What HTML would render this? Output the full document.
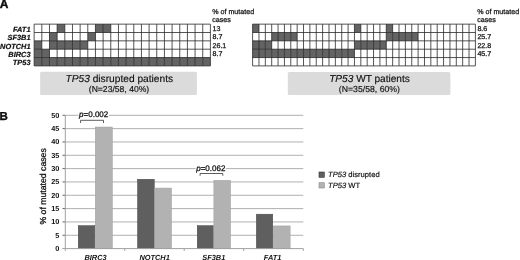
<!DOCTYPE html>
<html><head><meta charset="utf-8"><style>
html,body{margin:0;padding:0;background:#fff;}
body{width:520px;height:260px;overflow:hidden;position:relative;}
svg{position:absolute;left:0;top:0;filter:blur(0.3px);}
text{font-family:"Liberation Sans",Arial,sans-serif;fill:#111;text-rendering:geometricPrecision;}
.grid line{stroke:#2a2a2a;stroke-width:0.8;}
.gl{font-weight:bold;font-style:italic;font-size:7.4px;stroke:#111;stroke-width:0.2px;}
.pct{font-size:7.1px;stroke:#111;stroke-width:0.25px;}
.it{font-style:italic;}
</style></head><body>
<svg width="520" height="260" viewBox="0 0 520 260">
<text x="-0.2" y="8.3" style="font-weight:bold;font-size:12px;stroke:#000;stroke-width:0.35px">A</text>
<text x="-0.5" y="119.7" style="font-weight:bold;font-size:11.5px;stroke:#000;stroke-width:0.35px">B</text>
<g class="grid">
<rect x="57.14" y="24.15" width="7.66" height="8.35" fill="#636363"/>
<rect x="95.45" y="24.15" width="7.66" height="8.35" fill="#636363"/>
<rect x="103.12" y="24.15" width="7.66" height="8.35" fill="#636363"/>
<rect x="49.48" y="32.50" width="7.66" height="8.35" fill="#636363"/>
<rect x="87.79" y="32.50" width="7.66" height="8.35" fill="#636363"/>
<rect x="34.15" y="40.85" width="7.66" height="8.35" fill="#636363"/>
<rect x="49.48" y="40.85" width="7.66" height="8.35" fill="#636363"/>
<rect x="57.14" y="40.85" width="7.66" height="8.35" fill="#636363"/>
<rect x="64.80" y="40.85" width="7.66" height="8.35" fill="#636363"/>
<rect x="72.47" y="40.85" width="7.66" height="8.35" fill="#636363"/>
<rect x="80.13" y="40.85" width="7.66" height="8.35" fill="#636363"/>
<rect x="34.15" y="49.20" width="7.66" height="8.35" fill="#636363"/>
<rect x="41.81" y="49.20" width="7.66" height="8.35" fill="#636363"/>
<rect x="34.15" y="57.55" width="7.66" height="8.35" fill="#636363"/>
<rect x="41.81" y="57.55" width="7.66" height="8.35" fill="#636363"/>
<rect x="49.48" y="57.55" width="7.66" height="8.35" fill="#636363"/>
<rect x="57.14" y="57.55" width="7.66" height="8.35" fill="#636363"/>
<rect x="64.80" y="57.55" width="7.66" height="8.35" fill="#636363"/>
<rect x="72.47" y="57.55" width="7.66" height="8.35" fill="#636363"/>
<rect x="80.13" y="57.55" width="7.66" height="8.35" fill="#636363"/>
<rect x="87.79" y="57.55" width="7.66" height="8.35" fill="#636363"/>
<rect x="95.45" y="57.55" width="7.66" height="8.35" fill="#636363"/>
<rect x="103.12" y="57.55" width="7.66" height="8.35" fill="#636363"/>
<rect x="110.78" y="57.55" width="7.66" height="8.35" fill="#636363"/>
<rect x="118.44" y="57.55" width="7.66" height="8.35" fill="#636363"/>
<rect x="126.11" y="57.55" width="7.66" height="8.35" fill="#636363"/>
<rect x="133.77" y="57.55" width="7.66" height="8.35" fill="#636363"/>
<rect x="141.43" y="57.55" width="7.66" height="8.35" fill="#636363"/>
<rect x="149.10" y="57.55" width="7.66" height="8.35" fill="#636363"/>
<rect x="156.76" y="57.55" width="7.66" height="8.35" fill="#636363"/>
<rect x="164.42" y="57.55" width="7.66" height="8.35" fill="#636363"/>
<rect x="172.08" y="57.55" width="7.66" height="8.35" fill="#636363"/>
<rect x="179.75" y="57.55" width="7.66" height="8.35" fill="#636363"/>
<rect x="187.41" y="57.55" width="7.66" height="8.35" fill="#636363"/>
<rect x="195.07" y="57.55" width="7.66" height="8.35" fill="#636363"/>
<rect x="202.74" y="57.55" width="7.66" height="8.35" fill="#636363"/>
<line x1="34.15" y1="24.15" x2="34.15" y2="65.90"/>
<line x1="41.81" y1="24.15" x2="41.81" y2="65.90"/>
<line x1="49.48" y1="24.15" x2="49.48" y2="65.90"/>
<line x1="57.14" y1="24.15" x2="57.14" y2="65.90"/>
<line x1="64.80" y1="24.15" x2="64.80" y2="65.90"/>
<line x1="72.47" y1="24.15" x2="72.47" y2="65.90"/>
<line x1="80.13" y1="24.15" x2="80.13" y2="65.90"/>
<line x1="87.79" y1="24.15" x2="87.79" y2="65.90"/>
<line x1="95.45" y1="24.15" x2="95.45" y2="65.90"/>
<line x1="103.12" y1="24.15" x2="103.12" y2="65.90"/>
<line x1="110.78" y1="24.15" x2="110.78" y2="65.90"/>
<line x1="118.44" y1="24.15" x2="118.44" y2="65.90"/>
<line x1="126.11" y1="24.15" x2="126.11" y2="65.90"/>
<line x1="133.77" y1="24.15" x2="133.77" y2="65.90"/>
<line x1="141.43" y1="24.15" x2="141.43" y2="65.90"/>
<line x1="149.10" y1="24.15" x2="149.10" y2="65.90"/>
<line x1="156.76" y1="24.15" x2="156.76" y2="65.90"/>
<line x1="164.42" y1="24.15" x2="164.42" y2="65.90"/>
<line x1="172.08" y1="24.15" x2="172.08" y2="65.90"/>
<line x1="179.75" y1="24.15" x2="179.75" y2="65.90"/>
<line x1="187.41" y1="24.15" x2="187.41" y2="65.90"/>
<line x1="195.07" y1="24.15" x2="195.07" y2="65.90"/>
<line x1="202.74" y1="24.15" x2="202.74" y2="65.90"/>
<line x1="210.40" y1="24.15" x2="210.40" y2="65.90"/>
<line x1="34.15" y1="24.15" x2="210.40" y2="24.15"/>
<line x1="34.15" y1="32.50" x2="210.40" y2="32.50"/>
<line x1="34.15" y1="40.85" x2="210.40" y2="40.85"/>
<line x1="34.15" y1="49.20" x2="210.40" y2="49.20"/>
<line x1="34.15" y1="57.55" x2="210.40" y2="57.55"/>
<line x1="34.15" y1="65.90" x2="210.40" y2="65.90"/>
<rect x="252.60" y="24.15" width="6.37" height="8.35" fill="#636363"/>
<rect x="354.45" y="24.15" width="6.37" height="8.35" fill="#636363"/>
<rect x="386.28" y="24.15" width="6.37" height="8.35" fill="#636363"/>
<rect x="271.70" y="32.50" width="6.37" height="8.35" fill="#636363"/>
<rect x="278.06" y="32.50" width="6.37" height="8.35" fill="#636363"/>
<rect x="284.43" y="32.50" width="6.37" height="8.35" fill="#636363"/>
<rect x="290.79" y="32.50" width="6.37" height="8.35" fill="#636363"/>
<rect x="386.28" y="32.50" width="6.37" height="8.35" fill="#636363"/>
<rect x="392.65" y="32.50" width="6.37" height="8.35" fill="#636363"/>
<rect x="399.01" y="32.50" width="6.37" height="8.35" fill="#636363"/>
<rect x="405.38" y="32.50" width="6.37" height="8.35" fill="#636363"/>
<rect x="411.74" y="32.50" width="6.37" height="8.35" fill="#636363"/>
<rect x="252.60" y="40.85" width="6.37" height="8.35" fill="#636363"/>
<rect x="258.97" y="40.85" width="6.37" height="8.35" fill="#636363"/>
<rect x="265.33" y="40.85" width="6.37" height="8.35" fill="#636363"/>
<rect x="354.45" y="40.85" width="6.37" height="8.35" fill="#636363"/>
<rect x="360.82" y="40.85" width="6.37" height="8.35" fill="#636363"/>
<rect x="367.18" y="40.85" width="6.37" height="8.35" fill="#636363"/>
<rect x="373.55" y="40.85" width="6.37" height="8.35" fill="#636363"/>
<rect x="379.91" y="40.85" width="6.37" height="8.35" fill="#636363"/>
<rect x="252.60" y="49.20" width="6.37" height="8.35" fill="#636363"/>
<rect x="258.97" y="49.20" width="6.37" height="8.35" fill="#636363"/>
<rect x="265.33" y="49.20" width="6.37" height="8.35" fill="#636363"/>
<rect x="271.70" y="49.20" width="6.37" height="8.35" fill="#636363"/>
<rect x="278.06" y="49.20" width="6.37" height="8.35" fill="#636363"/>
<rect x="284.43" y="49.20" width="6.37" height="8.35" fill="#636363"/>
<rect x="290.79" y="49.20" width="6.37" height="8.35" fill="#636363"/>
<rect x="297.16" y="49.20" width="6.37" height="8.35" fill="#636363"/>
<rect x="303.53" y="49.20" width="6.37" height="8.35" fill="#636363"/>
<rect x="309.89" y="49.20" width="6.37" height="8.35" fill="#636363"/>
<rect x="316.26" y="49.20" width="6.37" height="8.35" fill="#636363"/>
<rect x="322.62" y="49.20" width="6.37" height="8.35" fill="#636363"/>
<rect x="328.99" y="49.20" width="6.37" height="8.35" fill="#636363"/>
<rect x="335.35" y="49.20" width="6.37" height="8.35" fill="#636363"/>
<rect x="341.72" y="49.20" width="6.37" height="8.35" fill="#636363"/>
<rect x="348.09" y="49.20" width="6.37" height="8.35" fill="#636363"/>
<line x1="252.60" y1="24.15" x2="252.60" y2="65.90"/>
<line x1="258.97" y1="24.15" x2="258.97" y2="65.90"/>
<line x1="265.33" y1="24.15" x2="265.33" y2="65.90"/>
<line x1="271.70" y1="24.15" x2="271.70" y2="65.90"/>
<line x1="278.06" y1="24.15" x2="278.06" y2="65.90"/>
<line x1="284.43" y1="24.15" x2="284.43" y2="65.90"/>
<line x1="290.79" y1="24.15" x2="290.79" y2="65.90"/>
<line x1="297.16" y1="24.15" x2="297.16" y2="65.90"/>
<line x1="303.53" y1="24.15" x2="303.53" y2="65.90"/>
<line x1="309.89" y1="24.15" x2="309.89" y2="65.90"/>
<line x1="316.26" y1="24.15" x2="316.26" y2="65.90"/>
<line x1="322.62" y1="24.15" x2="322.62" y2="65.90"/>
<line x1="328.99" y1="24.15" x2="328.99" y2="65.90"/>
<line x1="335.35" y1="24.15" x2="335.35" y2="65.90"/>
<line x1="341.72" y1="24.15" x2="341.72" y2="65.90"/>
<line x1="348.09" y1="24.15" x2="348.09" y2="65.90"/>
<line x1="354.45" y1="24.15" x2="354.45" y2="65.90"/>
<line x1="360.82" y1="24.15" x2="360.82" y2="65.90"/>
<line x1="367.18" y1="24.15" x2="367.18" y2="65.90"/>
<line x1="373.55" y1="24.15" x2="373.55" y2="65.90"/>
<line x1="379.91" y1="24.15" x2="379.91" y2="65.90"/>
<line x1="386.28" y1="24.15" x2="386.28" y2="65.90"/>
<line x1="392.65" y1="24.15" x2="392.65" y2="65.90"/>
<line x1="399.01" y1="24.15" x2="399.01" y2="65.90"/>
<line x1="405.38" y1="24.15" x2="405.38" y2="65.90"/>
<line x1="411.74" y1="24.15" x2="411.74" y2="65.90"/>
<line x1="418.11" y1="24.15" x2="418.11" y2="65.90"/>
<line x1="424.47" y1="24.15" x2="424.47" y2="65.90"/>
<line x1="430.84" y1="24.15" x2="430.84" y2="65.90"/>
<line x1="437.21" y1="24.15" x2="437.21" y2="65.90"/>
<line x1="443.57" y1="24.15" x2="443.57" y2="65.90"/>
<line x1="449.94" y1="24.15" x2="449.94" y2="65.90"/>
<line x1="456.30" y1="24.15" x2="456.30" y2="65.90"/>
<line x1="462.67" y1="24.15" x2="462.67" y2="65.90"/>
<line x1="469.03" y1="24.15" x2="469.03" y2="65.90"/>
<line x1="475.40" y1="24.15" x2="475.40" y2="65.90"/>
<line x1="252.60" y1="24.15" x2="475.40" y2="24.15"/>
<line x1="252.60" y1="32.50" x2="475.40" y2="32.50"/>
<line x1="252.60" y1="40.85" x2="475.40" y2="40.85"/>
<line x1="252.60" y1="49.20" x2="475.40" y2="49.20"/>
<line x1="252.60" y1="57.55" x2="475.40" y2="57.55"/>
<line x1="252.60" y1="65.90" x2="475.40" y2="65.90"/>
</g>
<g class="gl" text-anchor="end">
<text x="30.5" y="32.1">FAT1</text>
<text x="30.5" y="40.4">SF3B1</text>
<text x="30.5" y="48.5">NOTCH1</text>
<text x="30.5" y="56.8">BIRC3</text>
<text x="30.5" y="65.1">TP53</text>
</g>
<g class="pct">
<text x="212.3" y="14.3">% of mutated</text>
<text x="212.3" y="22.4">cases</text>
<text x="212.5" y="30.8">13</text>
<text x="212.5" y="39.1">8.7</text>
<text x="212.5" y="47.5">26.1</text>
<text x="212.5" y="55.8">8.7</text>
<text x="477.3" y="14.3">% of mutated</text>
<text x="477.3" y="22.4">cases</text>
<text x="477.4" y="30.8">8.6</text>
<text x="477.4" y="39.1">25.7</text>
<text x="477.4" y="47.5">22.8</text>
<text x="477.4" y="55.8">45.7</text>
</g>
<rect x="40.15" y="71.8" width="156.75" height="23.1" rx="1.5" fill="#dbdbdb"/>
<rect x="287.8" y="71.9" width="162.6" height="23" rx="1.5" fill="#dbdbdb"/>
<text x="119.3" y="81.7" text-anchor="middle" style="font-size:10.2px;stroke:#111;stroke-width:0.15px"><tspan class="it">TP53</tspan> disrupted patients</text>
<text x="119" y="92" text-anchor="middle" style="font-size:8.6px;stroke:#111;stroke-width:0.15px">(N=23/58, 40%)</text>
<text x="369.5" y="81.8" text-anchor="middle" style="font-size:10.1px;stroke:#111;stroke-width:0.15px"><tspan class="it">TP53</tspan> WT patients</text>
<text x="369.4" y="92" text-anchor="middle" style="font-size:8.7px;stroke:#111;stroke-width:0.15px">(N=35/58, 60%)</text>
<g>
<line x1="65.30" y1="235.27" x2="303.30" y2="235.27" stroke="#b0b0b0"/>
<line x1="62.50" y1="235.27" x2="65.30" y2="235.27" stroke="#666"/>
<line x1="65.30" y1="221.94" x2="303.30" y2="221.94" stroke="#b0b0b0"/>
<line x1="62.50" y1="221.94" x2="65.30" y2="221.94" stroke="#666"/>
<line x1="65.30" y1="208.61" x2="303.30" y2="208.61" stroke="#b0b0b0"/>
<line x1="62.50" y1="208.61" x2="65.30" y2="208.61" stroke="#666"/>
<line x1="65.30" y1="195.28" x2="303.30" y2="195.28" stroke="#b0b0b0"/>
<line x1="62.50" y1="195.28" x2="65.30" y2="195.28" stroke="#666"/>
<line x1="65.30" y1="181.95" x2="303.30" y2="181.95" stroke="#b0b0b0"/>
<line x1="62.50" y1="181.95" x2="65.30" y2="181.95" stroke="#666"/>
<line x1="65.30" y1="168.62" x2="303.30" y2="168.62" stroke="#b0b0b0"/>
<line x1="62.50" y1="168.62" x2="65.30" y2="168.62" stroke="#666"/>
<line x1="65.30" y1="155.29" x2="303.30" y2="155.29" stroke="#b0b0b0"/>
<line x1="62.50" y1="155.29" x2="65.30" y2="155.29" stroke="#666"/>
<line x1="65.30" y1="141.96" x2="303.30" y2="141.96" stroke="#b0b0b0"/>
<line x1="62.50" y1="141.96" x2="65.30" y2="141.96" stroke="#666"/>
<line x1="65.30" y1="128.63" x2="303.30" y2="128.63" stroke="#b0b0b0"/>
<line x1="62.50" y1="128.63" x2="65.30" y2="128.63" stroke="#666"/>
<line x1="65.30" y1="115.30" x2="303.30" y2="115.30" stroke="#b0b0b0"/>
<line x1="62.50" y1="115.30" x2="65.30" y2="115.30" stroke="#666"/>
<rect x="78.25" y="225.66" width="16.50" height="22.94" fill="#5f5f5f" stroke="#474747" stroke-width="0.5"/>
<rect x="95.25" y="127.01" width="17.10" height="121.59" fill="#b2b2b2" stroke="#a0a0a0" stroke-width="0.5"/>
<rect x="137.55" y="179.27" width="16.70" height="69.33" fill="#5f5f5f" stroke="#474747" stroke-width="0.5"/>
<rect x="154.75" y="188.07" width="16.80" height="60.53" fill="#b2b2b2" stroke="#a0a0a0" stroke-width="0.5"/>
<rect x="197.25" y="225.66" width="16.10" height="22.94" fill="#5f5f5f" stroke="#474747" stroke-width="0.5"/>
<rect x="213.85" y="180.33" width="16.70" height="68.27" fill="#b2b2b2" stroke="#a0a0a0" stroke-width="0.5"/>
<rect x="256.35" y="214.19" width="16.40" height="34.41" fill="#5f5f5f" stroke="#474747" stroke-width="0.5"/>
<rect x="273.25" y="225.92" width="16.90" height="22.68" fill="#b2b2b2" stroke="#a0a0a0" stroke-width="0.5"/>
<line x1="65.3" y1="115.30" x2="65.3" y2="248.6" stroke="#a0a0a0"/>
<line x1="62.3" y1="248.6" x2="303.3" y2="248.6" stroke="#a0a0a0"/>
<line x1="65.30" y1="248.6" x2="65.30" y2="250.9" stroke="#a0a0a0"/>
<line x1="124.75" y1="248.6" x2="124.75" y2="250.9" stroke="#a0a0a0"/>
<line x1="184.20" y1="248.6" x2="184.20" y2="250.9" stroke="#a0a0a0"/>
<line x1="243.70" y1="248.6" x2="243.70" y2="250.9" stroke="#a0a0a0"/>
<line x1="303.30" y1="248.6" x2="303.30" y2="250.9" stroke="#a0a0a0"/>
</g>
<g style="font-size:7.3px;font-weight:bold">
<text x="59.4" y="251.10" text-anchor="end">0</text>
<text x="59.4" y="237.77" text-anchor="end">5</text>
<text x="59.4" y="224.44" text-anchor="end">10</text>
<text x="59.4" y="211.11" text-anchor="end">15</text>
<text x="59.4" y="197.78" text-anchor="end">20</text>
<text x="59.4" y="184.45" text-anchor="end">25</text>
<text x="59.4" y="171.12" text-anchor="end">30</text>
<text x="59.4" y="157.79" text-anchor="end">35</text>
<text x="59.4" y="144.46" text-anchor="end">40</text>
<text x="59.4" y="131.13" text-anchor="end">45</text>
<text x="59.4" y="117.80" text-anchor="end">50</text>
</g>
<text transform="translate(45.9,186.4) rotate(-90)" text-anchor="middle" style="font-size:8.7px;stroke:#111;stroke-width:0.28px">% of mutated cases</text>
<rect x="78.5" y="111" width="30.5" height="8" fill="#fff"/>
<text x="79.1" y="117.3" style="font-size:8px;stroke:#111;stroke-width:0.28px"><tspan class="it">p</tspan>=0.002</text>
<path d="M80.6 123 V120.3 H103.5 V123" fill="none" stroke="#333" stroke-width="0.8"/>
<rect x="195.5" y="164.5" width="30.5" height="8" fill="#fff"/>
<text x="196.2" y="170.6" style="font-size:8px;stroke:#111;stroke-width:0.28px"><tspan class="it">p</tspan>=0.062</text>
<path d="M200.1 175.8 V173.5 H222.8 V175.8" fill="none" stroke="#333" stroke-width="0.8"/>
<g class="it" style="font-size:7.4px;font-weight:bold" text-anchor="middle">
<text x="95.5" y="260.4">BIRC3</text>
<text x="154.6" y="260.4">NOTCH1</text>
<text x="213.8" y="260.4">SF3B1</text>
<text x="272.6" y="260.4">FAT1</text>
</g>
<rect x="319" y="172" width="5.3" height="5.3" fill="#5f5f5f" stroke="#333" stroke-width="0.6"/>
<rect x="319" y="182.7" width="5.3" height="5.3" fill="#b2b2b2" stroke="#888" stroke-width="0.6"/>
<g style="font-size:7.6px;stroke:#111;stroke-width:0.18px">
<text x="328.1" y="177.4"><tspan class="it">TP53</tspan> disrupted</text>
<text x="328.1" y="188"><tspan class="it">TP53</tspan> WT</text>
</g>
</svg>
</body></html>
